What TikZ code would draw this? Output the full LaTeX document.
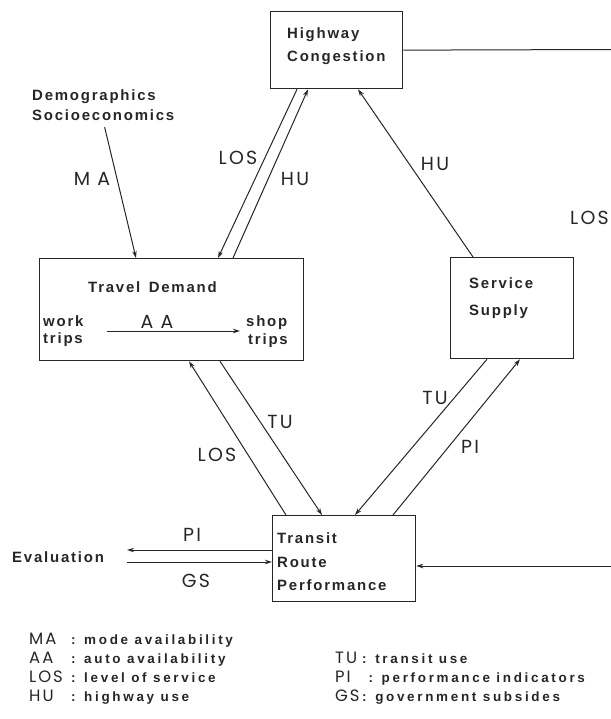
\documentclass[tikz,border=0pt]{standalone}
\usepackage{fontspec}
\setmainfont{Liberation Sans}
\newfontfamily\bxf{Liberation Sans}[LetterSpace=12]
\newfontfamily\legf{Liberation Sans}[LetterSpace=20]
\newfontfamily\geof{Poppins}[LetterSpace=12]
\newfontfamily\geow{Poppins}[LetterSpace=12]
\usetikzlibrary{arrows.meta,calc}
\definecolor{ink}{HTML}{262626}
\newcommand\bxt{\bxf\bfseries\fontsize{15}{18}\selectfont}
\newcommand\lbt{\geof\fontsize{19}{22}\selectfont}
\newcommand\lga{\geow\fontsize{16.5}{18}\selectfont}
\newcommand\lgd{\legf\bfseries\fontsize{13.5}{16}\selectfont}
\begin{document}
\begin{tikzpicture}[x=1bp,y=-1bp,
  boxnode/.style={draw=ink,line width=1.3bp,inner sep=0,anchor=north west},
  txt/.style={inner sep=0,anchor=base west,text=ink,font=\bxt},
  lbl/.style={inner sep=0,text=ink,font=\lbt},
  leg/.style={inner sep=0,anchor=base west,text=ink},
  conn/.style={draw=ink,line width=1bp,-{Stealth[length=7bp,width=4.5bp]}},
  plain/.style={draw=ink,line width=1bp}]
\useasboundingbox (0,0) rectangle (611,719);
% boxes
\node[boxnode,minimum width=132bp,minimum height=77bp] (hc) at (270,11) {};
\node[boxnode,minimum width=264bp,minimum height=102bp] (td) at (39,258) {};
\node[boxnode,minimum width=123bp,minimum height=101bp] (ss) at (450,257) {};
\node[boxnode,minimum width=143bp,minimum height=86bp] (trp) at (272,515) {};
% box texts
\node[txt] (hc1) at (287,39) {Highway};
\node[txt] (hc2) at (287,62) {Congestion};
\node[txt] (demo1) at (32,101) {Demographics};
\node[txt] (demo2) at (32,121) {Socioeconomics};
\node[txt] (td1) at (88,292) {Travel\, Demand};
\node[txt] (wk1) at (43,326) {work};
\node[txt] (wk2) at (43,343) {trips};
\node[txt] (sh1) at (246,326) {shop};
\node[txt] (sh2) at (248,344) {trips};
\node[txt] (ss1) at (469,288) {Service};
\node[txt] (ss2) at (469,315) {Supply};
\node[txt] (tr1) at (277,543) {Transit};
\node[txt] (tr2) at (277,567) {Route};
\node[txt] (tr3) at (277,590) {Performance};
\node[txt] (ev) at (12,562) {Evaluation};
% free ends at the right edge
\coordinate (rt) at (612,49.5);
\coordinate (rb) at (612,566);
\coordinate (piE) at ([xshift=23bp,yshift=12bp]ev.base east);
\coordinate (gsS) at ([xshift=23bp]ev.base east);
% connectors
\draw[plain] (hc.east) -- (rt);
\draw[conn] (rb) -- (rb -| trp.east);
\draw[conn,shorten <=6bp] (demo2.south) -- ([xshift=97bp]td.north west);
\draw[conn] ([xshift=27bp]hc.south west) -- ([xshift=179bp]td.north west);
\draw[conn] ([xshift=194bp]td.north west) -- ([xshift=38bp]hc.south west);
\draw[conn] ([xshift=23bp]ss.north west) -- ([xshift=88bp]hc.south west);
\draw[conn] ([xshift=14bp]trp.north west) -- ([xshift=150bp]td.south west);
\draw[conn] ([xshift=181bp]td.south west) -- ([xshift=50bp]trp.north west);
\draw[conn] ([xshift=37bp]ss.south west) -- ([xshift=83bp]trp.north west);
\draw[conn] ([xshift=121bp]trp.north west) -- ([xshift=70bp]ss.south west);
\draw[conn] ([xshift=23bp,yshift=-5bp]wk1.base east) -- ([xshift=-6bp,yshift=-5bp]sh1.base west);
\draw[conn] (trp.west |- piE) -- (piE);
\draw[conn] (gsS) -- (gsS -| trp.west);
% connector labels
\node[lbl] (lma) at (92,178.5) {M A};
\node[lbl] (laa) at (157,321.5) {A A};
\node[lbl] (llos1) at (238,158) {LOS};
\node[lbl] (lhu1) at (295,179) {HU};
\node[lbl] (lhu2) at (435,164) {HU};
\node[lbl,anchor=east] (llos3) at (609,218) {LOS};
\node[lbl] (ltu1) at (280,422) {TU};
\node[lbl] (llos2) at (217,455) {LOS};
\node[lbl] (ltu2) at (435,398) {TU};
\node[lbl] (lpi2) at (470,447) {PI};
\node[lbl] (lpi1) at (192,535) {PI};
\node[lbl] (lgs) at (196,581) {GS};
% legend
\node[leg] (g1) at (29,644) {\makebox[42bp][l]{\lga MA}{\lgd: mode availability}};
\node[leg] (g2) at (29,663) {\makebox[42bp][l]{\lga AA}{\lgd: auto availability}};
\node[leg] (g3) at (29,682) {\makebox[42bp][l]{\lga LOS}{\lgd: level of service}};
\node[leg] (g4) at (29,701) {\makebox[42bp][l]{\lga HU}{\lgd: highway use}};
\node[leg] (g5) at (335,663) {\makebox[27bp][l]{\lga TU}{\lgd: transit use}};
\node[leg] (g6) at (335,682) {\makebox[27bp][l]{\lga PI}{\lgd\ : performance indicators}};
\node[leg] (g7) at (335,701) {\makebox[27bp][l]{\lga GS}{\lgd: government subsides}};
\end{tikzpicture}
\end{document}
